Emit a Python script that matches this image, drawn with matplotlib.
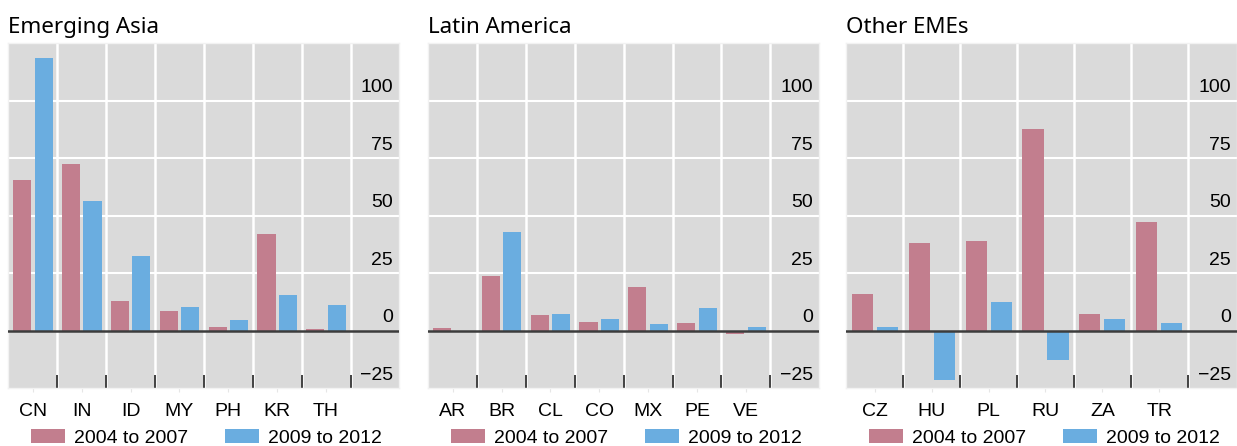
import matplotlib
matplotlib.use('Agg')
import matplotlib.pyplot as plt
import numpy as np

# data
titles = ['Emerging Asia', 'Latin America', 'Other EMEs']
asia_cats = ['CN', 'IN', 'ID', 'MY', 'PH', 'KR', 'TH']
asia_0407 = [65.5, 72.5, 12.9, 8.6, 1.6, 42.0, 0.7]
asia_0912 = [118.6, 56.4, 32.5, 10.3, 4.6, 15.5, 11.2]
latam_cats = ['AR', 'BR', 'CL', 'CO', 'MX', 'PE', 'VE']
latam_0407 = [1.2, 23.8, 6.8, 3.8, 19.0, 3.3, -1.3]
latam_0912 = [-0.4, 42.9, 7.2, 5.1, 2.9, 9.9, 1.6]
other_cats = ['CZ', 'HU', 'PL', 'RU', 'ZA', 'TR']
other_0407 = [15.9, 38.1, 39.0, 87.7, 7.2, 47.2]
other_0912 = [1.6, -21.4, 12.5, -12.8, 5.1, 3.3]
series_labels = ['2004 to 2007', '2009 to 2012']
yticks = [-25, 0, 25, 50, 75, 100]

PINK = '#c27e8e'
BLUE = '#6aade0'
BG = '#dadada'
W, H = 1237, 446
FONT = 'Liberation Sans'

fig = plt.figure(figsize=(W / 100, H / 100), dpi=100)

panels = [
    (asia_cats, asia_0407, asia_0912, 8.4, 7.5),
    (latam_cats, latam_0407, latam_0912, 428.2, 7.5),
    (other_cats, other_0407, other_0912, 846.3, 6.37),
]
ax_w = 391.0
ax_bot = 388.2
ax_top = 43.2

for (cats, s1, s2, left, xmax), title in zip(panels, titles):
    ax = fig.add_axes([left / W, (H - ax_bot) / H, ax_w / W, (ax_bot - ax_top) / H])
    ax.set_facecolor(BG)
    x = np.arange(len(cats))
    ax.bar(x - 0.22, s1, width=0.37, color=PINK, label=series_labels[0], zorder=3)
    ax.bar(x + 0.22, s2, width=0.37, color=BLUE, label=series_labels[1], zorder=3)
    ax.set_xlim(-0.5, xmax)
    ax.set_ylim(-25, 125)

    # grid
    for v in yticks[2:]:
        ax.axhline(v, color='white', lw=1.5, zorder=1)
    for b in np.arange(len(cats)) + 0.5:
        ax.axvline(b, color='white', lw=1.8, zorder=1)
    ax.axhline(0, color='#3c3c3c', lw=1.8, zorder=4)

    # x ticks
    ax.set_xticks(x)
    ax.set_xticklabels(cats, fontsize=14, family=FONT)
    ax.tick_params(axis='x', which='major', length=3, color='#e6e6e6', pad=8)
    ax.set_xticks(np.arange(len(cats)) + 0.5, minor=True)
    ax.tick_params(axis='x', which='minor', direction='in', length=9.5, width=1.3,
                   color='#333333')
    ax.set_yticks([])

    # y labels inside right
    for v in yticks:
        lab = '\u221225' if v < 0 else str(v)
        ax.annotate(lab, xy=(1, v), xycoords=('axes fraction', 'data'),
                    xytext=(-6.5, 4.5), textcoords='offset pixels',
                    ha='right', va='bottom', fontsize=14, family=FONT)

    for s in ax.spines.values():
        s.set_color('#f2f2f2')
        s.set_linewidth(1)

    ax.set_title(title, loc='left', fontsize=16.1, family='Noto Sans', pad=7)

    ax.legend(loc='center left', bbox_to_anchor=(0.058, -0.143), ncol=2,
              frameon=False, prop={'family': FONT, 'size': 14},
              handlelength=1.75, handleheight=0.77, handletextpad=0.46,
              columnspacing=1.9, borderpad=0, borderaxespad=0)

fig.savefig('out.png', dpi=100)
